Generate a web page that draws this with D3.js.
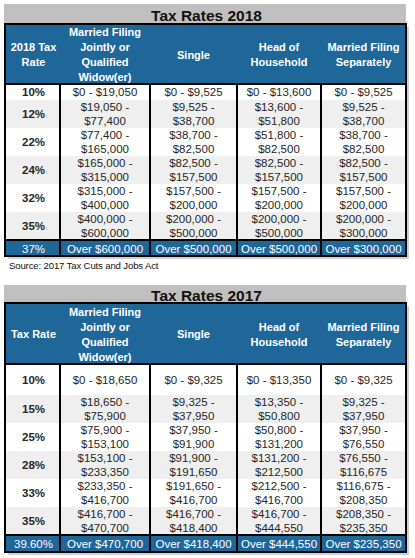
<!DOCTYPE html>
<html>
<head>
<meta charset="utf-8">
<script src="https://cdn.jsdelivr.net/npm/d3@7"></script>
<style>
  html, body { margin: 0; padding: 0; background: #fff; }
  svg { display: block; font-family: "Liberation Sans", Arial, sans-serif; }
</style>
</head>
<body>
<svg id="chart" width="415" height="558"></svg>
<script>
// ---------- DATA ----------
const columns = ["rate", "mfj", "single", "hoh", "mfs"];

const title2018 = "Tax Rates 2018";
const headers2018 = ["2018 Tax\nRate", "Married Filing\nJointly or\nQualified\nWidow(er)", "Single", "Head of\nHousehold", "Married Filing\nSeparately"];
const rates2018 = ["10%", "12%", "22%", "24%", "32%", "35%", "37%"];
const mfj2018 = ["$0 - $19,050", "$19,050 - $77,400", "$77,400 - $165,000", "$165,000 - $315,000", "$315,000 - $400,000", "$400,000 - $600,000", "Over $600,000"];
const single2018 = ["$0 - $9,525", "$9,525 - $38,700", "$38,700 - $82,500", "$82,500 - $157,500", "$157,500 - $200,000", "$200,000 - $500,000", "Over $500,000"];
const hoh2018 = ["$0 - $13,600", "$13,600 - $51,800", "$51,800 - $82,500", "$82,500 - $157,500", "$157,500 - $200,000", "$200,000 - $500,000", "Over $500,000"];
const mfs2018 = ["$0 - $9,525", "$9,525 - $38,700", "$38,700 - $82,500", "$82,500 - $157,500", "$157,500 - $200,000", "$200,000 - $300,000", "Over $300,000"];

const title2017 = "Tax Rates 2017";
const headers2017 = ["Tax Rate", "Married Filing\nJointly or\nQualified\nWidow(er)", "Single", "Head of\nHousehold", "Married Filing\nSeparately"];
const rates2017 = ["10%", "15%", "25%", "28%", "33%", "35%", "39.60%"];
const mfj2017 = ["$0 - $18,650", "$18,650 - $75,900", "$75,900 - $153,100", "$153,100 - $233,350", "$233,350 - $416,700", "$416,700 - $470,700", "Over $470,700"];
const single2017 = ["$0 - $9,325", "$9,325 - $37,950", "$37,950 - $91,900", "$91,900 - $191,650", "$191,650 - $416,700", "$416,700 - $418,400", "Over $418,400"];
const hoh2017 = ["$0 - $13,350", "$13,350 - $50,800", "$50,800 - $131,200", "$131,200 - $212,500", "$212,500 - $416,700", "$416,700 - $444,550", "Over $444,550"];
const mfs2017 = ["$0 - $9,325", "$9,325 - $37,950", "$37,950 - $76,550", "$76,550 - $116,675", "$116,675 - $208,350", "$208,350 - $235,350", "Over $235,350"];

const sourceNote = "Source: 2017 Tax Cuts and Jobs Act";

// ---------- LAYOUT ----------
const colEdges = [5, 60, 150, 237, 321, 406];
const xLeft = d3.scaleOrdinal().domain(columns).range(colEdges.slice(0, 5));
const xRight = d3.scaleOrdinal().domain(columns).range(colEdges.slice(1));
const xCenter = c => (xLeft(c) + xRight(c)) / 2 + (c === "rate" ? 1 : 0);

const BLUE = "#1f6699";
const TITLE_GRAY = "#c0c0c0";
const STRIPE = "#efefef";
const TEXT = "#262626";

const svg = d3.select("#chart");

function drawTable(cfg) {
  const g = svg.append("g");
  const tableTop = cfg.top + cfg.titleH;
  const headerBottom = tableTop + cfg.headerH;
  const rowTops = [headerBottom];
  cfg.rowH.forEach((h, i) => rowTops.push(rowTops[i] + h));
  const lastTop = rowTops[rowTops.length - 1];
  const bottom = lastTop + cfg.lastH;
  const left = colEdges[0], right = colEdges[colEdges.length - 1];

  // shadow
  g.append("rect").attr("x", left + 3).attr("y", tableTop + 3)
    .attr("width", right - left).attr("height", bottom - tableTop)
    .attr("fill", "#cfcfcf");

  // title bar
  g.append("rect").attr("x", left - 1).attr("y", cfg.top)
    .attr("width", right - left + 1).attr("height", cfg.titleH)
    .attr("fill", TITLE_GRAY);
  g.append("text").attr("x", (left + right) / 2 + 1).attr("y", cfg.top + cfg.titleH / 2 + 1)
    .attr("dy", "0.36em").attr("text-anchor", "middle")
    .attr("font-size", "15.5px").attr("font-weight", "bold").attr("fill", "#111")
    .text(cfg.title);

  // header
  g.append("rect").attr("x", left).attr("y", tableTop)
    .attr("width", right - left).attr("height", cfg.headerH).attr("fill", BLUE);
  columns.forEach((c, i) => {
    const lines = cfg.headers[i].split("\n");
    const cy = tableTop + cfg.headerH / 2 + 1;
    const lh = 15;
    const t = g.append("text").attr("text-anchor", "middle")
      .attr("font-size", "11px").attr("font-weight", "bold").attr("fill", "#fff");
    lines.forEach((ln, k) => {
      t.append("tspan").attr("x", xCenter(c))
        .attr("y", cy + (k - (lines.length - 1) / 2) * lh)
        .attr("dy", "0.36em").text(ln);
    });
  });

  // body rows
  const nBody = cfg.rowH.length;
  for (let r = 0; r < nBody; r++) {
    g.append("rect").attr("x", left).attr("y", rowTops[r])
      .attr("width", right - left).attr("height", cfg.rowH[r])
      .attr("fill", r % 2 === 0 ? "#ffffff" : STRIPE);
  }
  // last (blue) row
  g.append("rect").attr("x", left).attr("y", lastTop)
    .attr("width", right - left).attr("height", cfg.lastH).attr("fill", BLUE);

  // cell text
  columns.forEach(c => {
    const vals = cfg.series[c];
    vals.forEach((v, r) => {
      const isLast = r === vals.length - 1;
      const top = isLast ? lastTop : rowTops[r];
      const h = isLast ? cfg.lastH : cfg.rowH[r];
      const cy = top + h / 2;
      const lines = (!isLast && v.length > 12 && v.includes(" - "))
        ? [v.split(" - ")[0] + " -", v.split(" - ")[1]]
        : [v];
      const t = g.append("text").attr("text-anchor", "middle")
        .attr("font-size", "11.5px")
        .attr("font-weight", (c === "rate" && !isLast) ? "bold" : "normal")
        .attr("fill", isLast ? "#fff" : TEXT);
      lines.forEach((ln, k) => {
        t.append("tspan").attr("x", xCenter(c))
          .attr("y", cy + (k - (lines.length - 1) / 2) * 14 + (isLast ? 0.5 : 0))
          .attr("dy", "0.36em").text(ln);
      });
    });
  });

  // borders
  const line = (x1, y1, x2, y2) => g.append("line")
    .attr("x1", x1).attr("y1", y1).attr("x2", x2).attr("y2", y2)
    .attr("stroke", "#000").attr("stroke-width", 2);
  line(left, headerBottom, right, headerBottom);
  line(left, lastTop, right, lastTop);
  colEdges.slice(1, -1).forEach(x => line(x, headerBottom, x, bottom));
  g.append("rect").attr("x", left).attr("y", tableTop)
    .attr("width", right - left).attr("height", bottom - tableTop)
    .attr("fill", "none").attr("stroke", "#000").attr("stroke-width", 2);
  return bottom;
}

drawTable({
  top: 4, titleH: 20, headerH: 60, rowH: [16, 28, 28, 28, 28, 28], lastH: 16,
  title: title2018, headers: headers2018,
  series: { rate: rates2018, mfj: mfj2018, single: single2018, hoh: hoh2018, mfs: mfs2018 }
});

svg.append("text").attr("x", 9).attr("y", 269)
  .attr("font-size", "9.6px").attr("fill", "#111").attr("letter-spacing", "-0.15px")
  .text(sourceNote);

drawTable({
  top: 285, titleH: 18, headerH: 61, rowH: [31, 28, 28, 28, 28, 28], lastH: 17,
  title: title2017, headers: headers2017,
  series: { rate: rates2017, mfj: mfj2017, single: single2017, hoh: hoh2017, mfs: mfs2017 }
});
</script>
</body>
</html>
